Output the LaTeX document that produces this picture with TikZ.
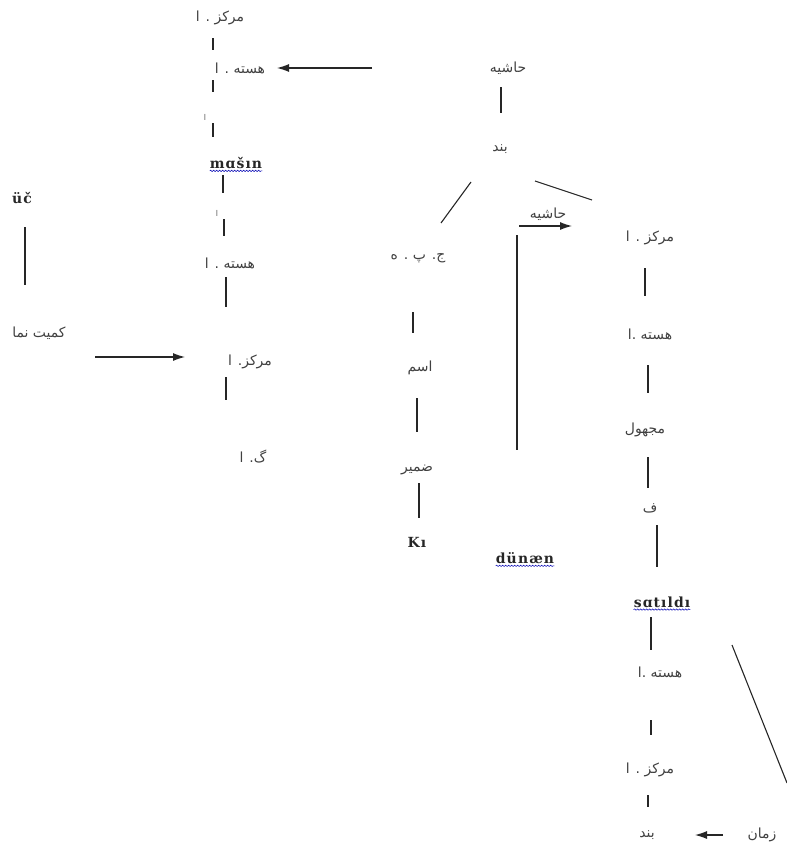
\documentclass[tikz,border=0pt]{standalone}
\usepackage{fontspec}
\usetikzlibrary{arrows.meta,decorations.pathmorphing}
\TeXXeTstate=1
\newfontfamily\arabicfont[Script=Arabic]{DejaVu Sans}
\newfontfamily\latfont[LetterSpace=8]{DejaVu Serif}
\newcommand{\fa}[1]{\arabicfont\beginR #1\endR}
\tikzset{
  x=1bp, y=-1bp,
  fatext/.style={font=\arabicfont\fontsize{14}{15}\selectfont, text=black!75, inner sep=0pt},
  smalltext/.style={font=\arabicfont\fontsize{8}{9}\selectfont, text=black!65, inner sep=0pt},
  lattext/.style={font=\latfont\bfseries\fontsize{14}{15}\selectfont, text=black!85, inner sep=0pt},
  latbold/.style={font=\latfont\bfseries\fontsize{14}{15}\selectfont, text=black!85, inner sep=0pt},
  ln/.style={draw=black!85, line width=1.1bp},
  arr/.style={ln, -{Latex[length=12bp,width=8bp]}},
  wavy/.style={draw=blue!70!black, line width=0.5bp, decorate, decoration={snake, amplitude=0.7bp, segment length=3bp}}
}
\begin{document}
\begin{tikzpicture}
\useasboundingbox (0,0) rectangle (787,843);
% left column
\node[fatext] (m1) at (220,18) {\fa{مرکز . ا}};
\node[fatext] (h1) at (240,68) {\fa{هسته . ا}};
\node[smalltext] (a1) at (205,117) {\fa{ا}};
\node[lattext] (mashin) at (236,163) {mɑšın};
\node[smalltext] (a2) at (217,213) {\fa{ا}};
\node[fatext] (h2) at (230,263) {\fa{هسته . ا}};
\node[fatext] (m2) at (250,362) {\fa{مرکز. ا}};
\node[fatext] (g) at (253,457) {\fa{گ. ا}};
\node[latbold] (uc) at (22,198) {üč};
\node[fatext] (kamiyat) at (39,333) {\fa{کمیت نما}};
% centre
\node[fatext] (hash1) at (508,68) {\fa{حاشیه}};
\node[fatext] (band1) at (500,149) {\fa{بند}};
\node[fatext] (jp) at (418,258) {\fa{ج. پ . ه}};
\node[fatext] (esm) at (420,368) {\fa{اسم}};
\node[fatext] (zamir) at (417,470) {\fa{ضمیر}};
\node[latbold] (ki) at (417,542) {Kı};
\node[lattext] (dunaen) at (525,558) {dünæn};
\node[fatext] (hash2) at (548,214) {\fa{حاشیه}};
% right column
\node[fatext] (m3) at (650,238) {\fa{مرکز . ا}};
\node[fatext] (h3) at (650,334) {\fa{هسته .ا}};
\node[fatext] (majhul) at (645,430) {\fa{مجهول}};
\node[fatext] (f) at (650,508) {\fa{ف}};
\node[lattext] (satildi) at (662,602) {sɑtıldı};
\node[fatext] (h4) at (660,672) {\fa{هسته .ا}};
\node[fatext] (m4) at (650,770) {\fa{مرکز . ا}};
\node[fatext] (band2) at (647,835) {\fa{بند}};
\node[fatext] (zaman) at (762,835) {\fa{زمان}};
% wavy underlines
\draw[wavy] ([yshift=-2bp]mashin.south west) -- ([yshift=-2bp]mashin.south east);
\draw[wavy] ([yshift=-2bp]dunaen.south west) -- ([yshift=-2bp]dunaen.south east);
\draw[wavy] ([yshift=-2bp]satildi.south west) -- ([yshift=-2bp]satildi.south east);
% connector end points
\coordinate (p1) at (213,38);  \coordinate (q1) at (213,50);
\coordinate (p2) at (213,80);  \coordinate (q2) at (213,92);
\coordinate (p3) at (213,123); \coordinate (q3) at (213,137);
\coordinate (p4) at (223,175); \coordinate (q4) at (223,193);
\coordinate (p5) at (224,219); \coordinate (q5) at (224,236);
\coordinate (p6) at (226,277); \coordinate (q6) at (226,307);
\coordinate (p7) at (226,377); \coordinate (q7) at (226,400);
\coordinate (p8) at (25,227);  \coordinate (q8) at (25,285);
\coordinate (p9) at (501,87);  \coordinate (q9) at (501,113);
\coordinate (p10) at (471,182); \coordinate (q10) at (441,223);
\coordinate (p11) at (535,181); \coordinate (q11) at (592,200);
\coordinate (p12) at (517,235); \coordinate (q12) at (517,450);
\coordinate (p13) at (413,312); \coordinate (q13) at (413,333);
\coordinate (p14) at (417,398); \coordinate (q14) at (417,432);
\coordinate (p15) at (419,483); \coordinate (q15) at (419,518);
\coordinate (p16) at (645,268); \coordinate (q16) at (645,296);
\coordinate (p17) at (648,365); \coordinate (q17) at (648,393);
\coordinate (p18) at (648,457); \coordinate (q18) at (648,488);
\coordinate (p19) at (657,525); \coordinate (q19) at (657,567);
\coordinate (p20) at (651,617); \coordinate (q20) at (651,650);
\coordinate (p21) at (651,720); \coordinate (q21) at (651,735);
\coordinate (p22) at (648,795); \coordinate (q22) at (648,807);
\coordinate (p23) at (732,645); \coordinate (q23) at (787,783);
\coordinate (ar1s) at (372,68);  \coordinate (ar1e) at (277,68);
\coordinate (ar2s) at (95,357);  \coordinate (ar2e) at (185,357);
\coordinate (ar3s) at (519,226); \coordinate (ar3e) at (572,226);
\coordinate (ar4s) at (723,835); \coordinate (ar4e) at (695,835);
\foreach \i in {1,...,23} { \draw[ln] (p\i) -- (q\i); }
\draw[arr] (ar1s) -- (ar1e);
\draw[arr] (ar2s) -- (ar2e);
\draw[arr] (ar3s) -- (ar3e);
\draw[arr] (ar4s) -- (ar4e);
\end{tikzpicture}
\end{document}
